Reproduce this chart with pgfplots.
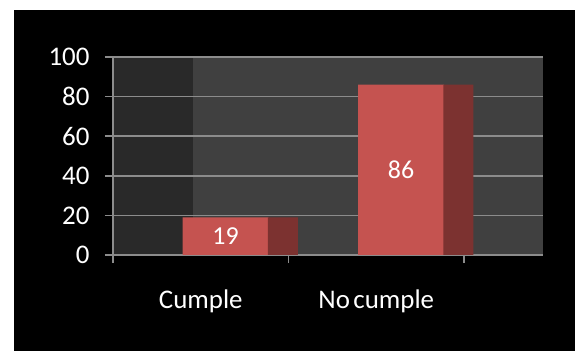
\documentclass[border=0pt]{standalone}
\usepackage{pgfplots}
\pgfplotsset{compat=1.18}
\usepackage{fontspec}
\setmainfont{Carlito}

\definecolor{backwall}{RGB}{64,64,64}
\definecolor{sidewall}{RGB}{41,41,41}
\definecolor{gridgray}{RGB}{140,140,140}
\definecolor{barfront}{RGB}{197,83,80}
\definecolor{barside}{RGB}{124,50,48}

\begin{document}
\begin{tikzpicture}
\useasboundingbox (0bp,0bp) rectangle (575bp,351bp);
\fill[white] (0bp,0bp) rectangle (575bp,351bp);
\fill[black] (14bp,0bp) rectangle (575bp,341bp);
\begin{axis}[
  at={(113bp,96bp)}, anchor=south west,
  scale only axis, width=430bp, height=198bp,
  xmin=-0.5, xmax=1.95, ymin=0, ymax=100,
  axis x line*=bottom, axis y line*=left,
  axis line style={-, draw=gridgray, line width=1.6bp},
  % back wall, with the darker side wall on its left
  axis background/.style={fill=backwall,
    path picture={\fill[sidewall] (path picture bounding box.south west)
      rectangle ([xshift=80bp]path picture bounding box.north west);}},
  ymajorgrids, grid style={draw=gridgray, line width=1.6bp},
  ytick={0,20,...,100},
  tick align=outside,
  major tick length=8bp, minor tick length=8bp,
  tick style={draw=gridgray, line width=1.6bp},
  xtick={0,1}, xticklabels={Cumple, No\hspace{0.13em}cumple},
  major x tick style={draw=none},
  minor xtick={-0.5,0.5,1.5},
  ticklabel style={font=\fontsize{27}{32}\selectfont, text=white},
  /pgf/number format/assume math mode=true,
  xticklabel style={yshift=-23bp},
  yticklabel style={xshift=-12bp},
]
  % front faces of the bars
  \addplot[ybar, bar width=0.49, bar shift=0.141, fill=barfront, draw=none]
    coordinates {(0,19) (1,86)};
  % shaded right-hand faces
  \addplot[ybar, bar width=0.17, bar shift=0.468, fill=barside, draw=none]
    coordinates {(0,19) (1,86)};

  % value labels in the middle of each bar
  \addplot[draw=none, mark=none, point meta=explicit, nodes near coords,
    every node near coord/.append style={anchor=center, text=white,
      font=\fontsize{26}{30}\selectfont}]
    coordinates {(0.141,9.5) [19] (1.141,43) [86]};
\end{axis}
\end{tikzpicture}
\end{document}
